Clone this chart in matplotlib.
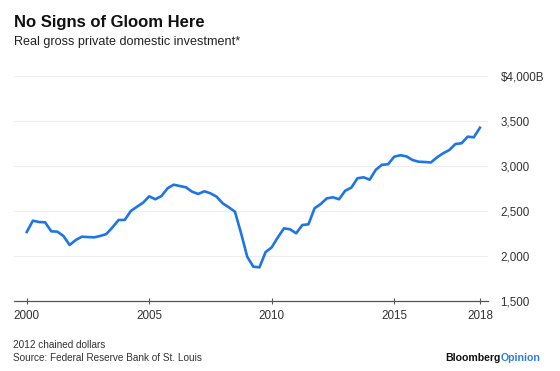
import matplotlib.pyplot as plt
from matplotlib.ticker import FuncFormatter

plt.rcParams['font.family'] = ['Liberation Sans', 'DejaVu Sans']

# Real gross private domestic investment, billions of chained 2012 dollars, quarterly 2000Q1-2018Q3
start_year = 2000
investment = [
    2263, 2389, 2374, 2371,
    2271, 2267, 2219, 2119,
    2174, 2211, 2207, 2204,
    2219, 2241, 2315, 2397,
    2397, 2497, 2544, 2589,
    2660, 2627, 2663, 2749,
    2789, 2774, 2760, 2711,
    2686, 2716, 2693, 2656,
    2582, 2538, 2489, 2250,
    1989, 1878, 1871, 2040,
    2093, 2204, 2304, 2293,
    2249, 2341, 2349, 2527,
    2574, 2637, 2649, 2627,
    2722, 2756, 2860, 2871,
    2845, 2955, 3010, 3016,
    3100, 3116, 3104, 3063,
    3044, 3041, 3036, 3093,
    3138, 3174, 3241, 3249,
    3322, 3316, 3422,
]
quarters = [start_year + i * 0.25 for i in range(len(investment))]

x_ticks = [2000, 2005, 2010, 2015, quarters[-1]]
x_labels = ['2000', '2005', '2010', '2015', '2018']
y_ticks = [1500, 2000, 2500, 3000, 3500, 4000]

fig = plt.figure(figsize=(5.6, 3.71), dpi=100)
ax = fig.add_axes([14 / 560, 70.3 / 371, (488 - 14) / 560, 225 / 371])

ax.plot(quarters, investment, color='#1f74e6', linewidth=1.9, solid_joinstyle='round')

ax.set_xlim(1999.48, 2018.83)
ax.set_ylim(1500, 4000)
ax.set_xticks(x_ticks)
ax.set_xticklabels(x_labels)
ax.set_yticks(y_ticks)


def fmt(v, pos):
    if v == 4000:
        return '$4,000B'
    return f'{int(v):,}'


ax.yaxis.set_major_formatter(FuncFormatter(fmt))
ax.yaxis.tick_right()
ax.tick_params(axis='y', length=0, pad=9, labelsize=8.4, labelcolor='#333333')
ax.tick_params(axis='x', direction='inout', length=4, width=0.8, color='#555555',
               pad=5, labelsize=8.4, labelcolor='#333333')
ax.grid(axis='y', color='#eeeeee', linewidth=0.8)
ax.set_axisbelow(True)
for side in ['top', 'right', 'left']:
    ax.spines[side].set_visible(False)
ax.spines['bottom'].set_color('#555555')
ax.spines['bottom'].set_linewidth(0.9)

fig.text(14 / 560, 1 - 23 / 371, 'No Signs of Gloom Here', fontsize=12, fontweight='bold',
         va='center', ha='left', color='#111111')
fig.text(14 / 560, 1 - 42 / 371, 'Real gross private domestic investment*', fontsize=9.1,
         va='center', ha='left', color='#222222')
fig.text(13 / 560, 1 - 345 / 371, '2012 chained dollars', fontsize=7.2,
         va='center', ha='left', color='#333333')
fig.text(13 / 560, 1 - 358 / 371, 'Source: Federal Reserve Bank of St. Louis', fontsize=7.2,
         va='center', ha='left', color='#333333')
t = fig.text(445 / 560, 1 - 358 / 371, 'Bloomberg', fontsize=7.6, fontweight='bold',
             va='center', ha='left', color='#111111')
fig.canvas.draw()
bb = t.get_window_extent()
fig.text(bb.x1 / 560, 1 - 358 / 371, 'Opinion', fontsize=7.6, fontweight='bold',
         va='center', ha='left', color='#2e7fe0')

fig.savefig('out.png', dpi=100)
